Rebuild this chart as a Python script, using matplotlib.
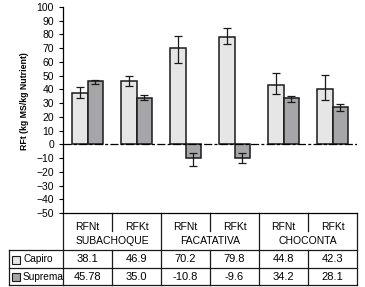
import numpy as np
import matplotlib
matplotlib.use('Agg')
import matplotlib.pyplot as plt
import matplotlib.transforms as mtransforms
from matplotlib.patches import Rectangle

plt.rcParams['font.family'] = ['Liberation Sans Narrow', 'Liberation Sans', 'DejaVu Sans']

# data
nutrients = ['RFNt', 'RFKt', 'RFNt', 'RFKt', 'RFNt', 'RFKt']
sites = ['SUBACHOQUE', 'FACATATIVA', 'CHOCONTA']
capiro_bar = [37.4, 46.1, 70.0, 78.2, 43.0, 40.1]
suprema_bar = [46.1, 33.6, -10.0, -10.0, 33.6, 26.9]
capiro_lo = [33.5, 42.3, 59.3, 72.9, 36.4, 32.3]
capiro_hi = [41.7, 49.5, 78.9, 84.5, 51.7, 50.3]
suprema_lo = [43.8, 32.0, -15.8, -13.9, 30.7, 24.0]
suprema_hi = [46.6, 35.7, -6.6, -6.6, 35.4, 29.6]
capiro_txt = ['38.1', '46.9', '70.2', '79.8', '44.8', '42.3']
suprema_txt = ['45.78', '35.0', '-10.8', '-9.6', '34.2', '28.1']

c_cap = '#e6e6e6'
c_sup = '#a6a6a9'
W, H = 365, 287

fig = plt.figure(figsize=(W / 100, H / 100), dpi=100)
ax = fig.add_axes([63 / W, 1 - 213 / H, 294 / W, 206 / H])

x = np.arange(len(nutrients))
w = 0.32
cap = np.array(capiro_bar)
sup = np.array(suprema_bar)
ax.bar(x - w, cap, w, align='edge', color=c_cap, edgecolor='#1a1a1a', lw=1.1, zorder=2)
ax.bar(x, sup, w, align='edge', color=c_sup, edgecolor='#1a1a1a', lw=1.1, zorder=2)
ax.errorbar(x - w / 2, cap, yerr=[cap - np.array(capiro_lo), np.array(capiro_hi) - cap],
            fmt='none', ecolor='#1a1a1a', elinewidth=0.9, capsize=3, capthick=0.9, zorder=3)
ax.errorbar(x + w / 2, sup, yerr=[sup - np.array(suprema_lo), np.array(suprema_hi) - sup],
            fmt='none', ecolor='#1a1a1a', elinewidth=0.9, capsize=3, capthick=0.9, zorder=3)
ax.axhline(0, color='black', lw=0.9, ls=(0, (6.5, 1.8, 2.4, 1.8)), zorder=4)

ax.set_xlim(-0.5, 5.5)
ax.set_ylim(-50, 100)
ax.set_yticks(np.arange(-50, 101, 10))
ax.set_xticks([])
ax.tick_params(axis='y', labelsize=7.5, length=3, width=0.8, pad=3.5)
for s in ['top', 'right']:
    ax.spines[s].set_visible(False)
ax.spines['left'].set_linewidth(0.9)
ax.spines['bottom'].set_linewidth(0.9)
ax.set_ylabel('RFt (kg MS/kg Nutrient)', fontsize=6.3, fontweight='bold')
ax.yaxis.set_label_coords(-0.115, 0.545)

# table below the axes: x in data units, y in figure pixels
tr = mtransforms.blended_transform_factory(ax.transData, fig.transFigure)
def fy(p):
    return 1 - p / H

def line(x0, x1, y0, y1):
    ax.plot([x0, x1], [fy(y0), fy(y1)], color='#1a1a1a', lw=0.9, transform=tr, clip_on=False)

xl = -0.5 - 54 / 49
for b in [-0.5, 1.5, 3.5, 5.5]:
    line(b, b, 213, 285)
for b in [0.5, 2.5, 4.5]:
    line(b, b, 213, 231)
    line(b, b, 250, 285)
line(xl, xl, 250, 285)
for yy in [250, 268, 285]:
    line(xl, 5.5, yy, yy)

for i, n in enumerate(nutrients):
    ax.text(i, fy(226.5), n, transform=tr, ha='center', va='center', fontsize=7.5)
    ax.text(i, fy(259.5), capiro_txt[i], transform=tr, ha='center', va='center', fontsize=8)
    ax.text(i, fy(277), suprema_txt[i], transform=tr, ha='center', va='center', fontsize=8)
for j, s in enumerate(sites):
    ax.text(2 * j + 0.5, fy(241), s, transform=tr, ha='center', va='center', fontsize=7.5)

for yy, name, col in [(259.5, 'Capiro', c_cap), (277, 'Suprema', c_sup)]:
    fig.add_artist(Rectangle((12 / W, fy(yy + 4)), 8 / W, 8 / H, transform=fig.transFigure,
                             facecolor=col, edgecolor='#1a1a1a', lw=0.8))
    fig.text(23 / W, fy(yy), name, ha='left', va='center', fontsize=7.3)

fig.savefig('out.png', dpi=100)
